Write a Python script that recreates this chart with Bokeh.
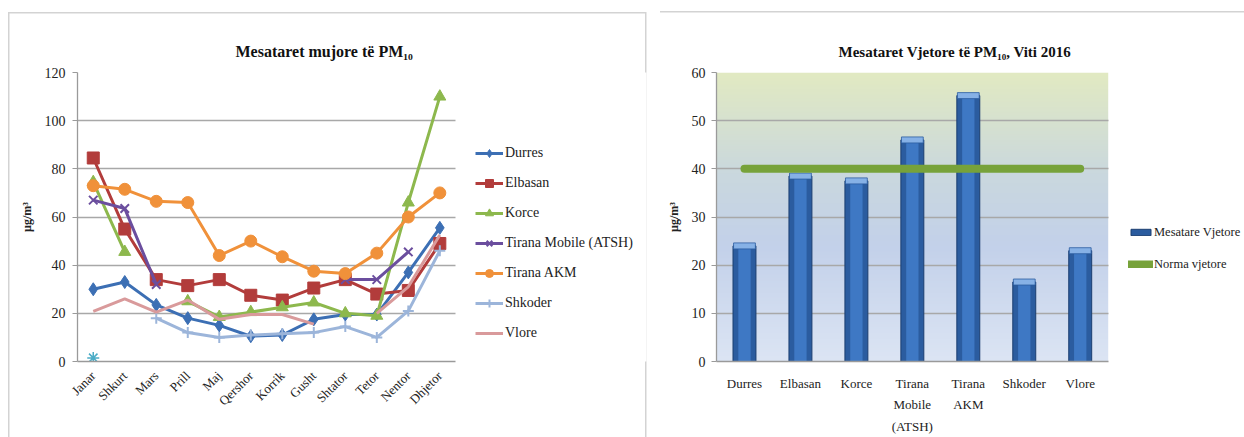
import math
import numpy as np
from bokeh.plotting import figure
from bokeh.layouts import row
from bokeh.models import (Range1d, Legend, LegendItem, Title, FixedTicker)
from bokeh.embed import file_html
from bokeh.resources import INLINE

nan = float("nan")

# ---------------- data: monthly means ----------------
months = ["Janar", "Shkurt", "Mars", "Prill", "Maj", "Qershor", "Korrik",
          "Gusht", "Shtator", "Tetor", "Nentor", "Dhjetor"]
durres = [30, 33, 23.5, 18, 15, 10.5, 11, 17.5, 19.5, 19.5, 37, 55.5]
elbasan = [84.5, 55, 34, 31.5, 34, 27.5, 25.5, 30.5, 34, 28, 29.5, 49]
korce = [74.5, 45.5, nan, 25, 18.5, 20.5, 22.5, 24.5, 20, 19, 66, 110]
tirana_mobile = [67, 63.5, 32, nan, nan, nan, nan, nan, 34, 34, 45.5, nan]
tirana_akm = [73, 71.5, 66.5, 66, 44, 50, 43.5, 37.5, 36.5, 45, 60, 70]
shkoder = [nan, nan, 18, 12, 10, 11, 11.5, 12, 14.5, 10, 21, 46]
vlore = [20.8, 26, 20.5, 25.5, 17.5, 19.5, 19.5, 15.5, nan, 20, 31, 52.5]
extra_point = [1.5, nan, nan, nan, nan, nan, nan, nan, nan, nan, nan, nan]
left_ticks = [0, 20, 40, 60, 80, 100, 120]

# ---------------- data: annual means ----------------
stations = ["Durres", "Elbasan", "Korce", "Tirana\nMobile\n(ATSH)",
            "Tirana\nAKM", "Shkoder", "Vlore"]
annual = [24, 38.5, 37.5, 46, 55.2, 16.5, 23]
norma = [40, 40, 40, 40, 40, 40, 40]
right_ticks = [0, 10, 20, 30, 40, 50, 60]

FONT = "Liberation Serif"
LFONT = "'Liberation Serif', serif"
GRID = "#A8A8A8"
AXIS = "#9A9A9A"
TXT = "#222222"
PANEL = "#D3D3D3"

# category positions on a numeric axis (one unit per category)
mx = [i for i in range(len(months))]
sx = [i + 0.5 for i in range(len(stations))]


def style_axes(p, xsize):
    for ax in (p.xaxis[0], p.yaxis[0]):
        ax.major_label_text_font = FONT
        ax.major_label_text_font_size = "14px"
        ax.major_label_text_color = TXT
        ax.axis_line_color = AXIS
        ax.axis_line_width = 1.3
        ax.minor_tick_line_color = None
    p.yaxis.axis_label = "µg/m³"
    p.yaxis.axis_label_text_font = FONT
    p.yaxis.axis_label_text_font_style = "bold"
    p.yaxis.axis_label_text_font_size = "12px"
    p.yaxis.axis_label_text_color = TXT
    p.yaxis.axis_label_standoff = 8
    p.yaxis.major_tick_line_color = AXIS
    p.yaxis.major_tick_in = 0
    p.yaxis.major_tick_out = 5
    p.xaxis.major_tick_line_color = None
    p.xaxis.major_label_text_font_size = xsize
    p.xgrid.grid_line_color = None
    p.ygrid.grid_line_color = GRID
    p.ygrid.grid_line_width = 1.3
    p.outline_line_color = None
    p.border_fill_color = None


def style_legend(leg, size, gh, spacing):
    leg.label_text_font = LFONT
    leg.label_text_font_size = size
    leg.label_text_color = TXT
    leg.glyph_height = gh
    leg.label_height = 20
    leg.spacing = spacing
    leg.padding = 0
    leg.margin = 0
    leg.border_line_color = None
    leg.background_fill_alpha = 0


# ================= left chart =================
left_css = {
    "background-image": ", ".join([f"linear-gradient({PANEL}, {PANEL})"] * 3),
    "background-size": "638px 1.5px, 1.5px 430px, 1.5px 430px",
    "background-position": "8px 12px, 8px 12px, 645px 12px",
    "background-repeat": "no-repeat",
}
p1 = figure(width=652, height=437, x_range=Range1d(-0.5, 17.56),
            y_range=Range1d(0, 120), output_backend="svg",
            toolbar_location=None, min_border_left=77, min_border_right=6,
            min_border_top=72, min_border_bottom=71, styles=left_css)
style_axes(p1, "13px")
p1.background_fill_color = "white"
p1.yaxis.ticker = FixedTicker(ticks=left_ticks)
p1.yaxis.major_label_standoff = 7
p1.xaxis.ticker = FixedTicker(ticks=mx)
p1.xaxis.major_label_overrides = {i: m for i, m in zip(mx, months)}
p1.xaxis.bounds = (-0.5, len(months) - 0.5)
p1.xaxis.major_label_orientation = math.pi / 4
p1.xaxis.major_label_standoff = 6
p1.ygrid.cross_bounds = (-0.5, len(months) - 0.5)

series = [
    ("Durres", durres, "#3C6FB4", "diamond", 13),
    ("Elbasan", elbasan, "#B23C3B", "square", 12),
    ("Korce", korce, "#8DB84D", "triangle", 12),
    ("Tirana Mobile (ATSH)", tirana_mobile, "#6B4E9E", "x", 12),
    ("Tirana AKM", tirana_akm, "#F0913A", "circle", 12),
    ("Shkoder", shkoder, "#9CB5DA", "cross", 11),
    ("Vlore", vlore, "#D99A9B", None, 0),
]
items = []
for name, vals, col, mk, sz in series:
    rs = [p1.line(mx, vals, line_color=col, line_width=3)]
    if mk:
        if mk in ("x", "cross"):
            rs.append(p1.scatter(mx, vals, marker=mk, size=sz,
                                 line_color=col, line_width=2))
        else:
            rs.append(p1.scatter(mx, vals, marker=mk, size=sz,
                                 fill_color=col, line_color=col))
    items.append(LegendItem(label=name, renderers=rs))
p1.scatter(mx, extra_point, marker="asterisk", size=12,
           line_color="#4BACC6", line_width=1.5)

leg1 = Legend(items=items, location=(398, 18), orientation="vertical",
              glyph_width=28, label_standoff=2)
style_legend(leg1, "14px", 20, 10)
p1.add_layout(leg1)

t1 = Title(text="Mesataret mujore të PM₁₀", text_font=FONT,
           text_font_style="bold", text_font_size="16px", align="left",
           offset=158, standoff=26, text_color="#111111")
p1.add_layout(t1, "above")

# ================= right chart =================
right_css = {
    "background-image": f"linear-gradient({PANEL}, {PANEL})",
    "background-size": "600px 1.5px",
    "background-position": "8px 11px",
    "background-repeat": "no-repeat",
}
p2 = figure(width=592, height=437, x_range=Range1d(0, 9.40),
            y_range=Range1d(0, 60), output_backend="svg",
            toolbar_location=None, min_border_left=64, min_border_right=2,
            min_border_top=72, min_border_bottom=75, styles=right_css)
style_axes(p2, "13px")
p2.background_fill_color = None
p2.yaxis.ticker = FixedTicker(ticks=right_ticks)
p2.yaxis.major_label_standoff = 6
p2.xaxis.ticker = FixedTicker(ticks=sx)
p2.xaxis.major_label_overrides = {x: s for x, s in zip(sx, stations)}
p2.xaxis.bounds = (0, len(stations))
p2.xaxis.major_label_standoff = 8
p2.xaxis.major_label_text_line_height = 1.45
p2.ygrid.cross_bounds = (0, len(stations))

# gradient background of the plot area (style only)
stops_y = np.array([0.0, 0.4, 0.65, 1.0])
stops_c = np.array([[220, 229, 244], [195, 209, 234], [202, 216, 222],
                    [226, 234, 194]], dtype=float)
ny = 200
t = np.linspace(0, 1, ny)
rgb = np.stack([np.interp(t, stops_y, stops_c[:, k]) for k in range(3)], axis=1)
img = np.zeros((ny, 1), dtype=np.uint32)
view = img.view(dtype=np.uint8).reshape((ny, 1, 4))
view[:, 0, 0] = rgb[:, 0].astype(np.uint8)
view[:, 0, 1] = rgb[:, 1].astype(np.uint8)
view[:, 0, 2] = rgb[:, 2].astype(np.uint8)
view[:, 0, 3] = 255
p2.image_rgba(image=[img], x=0, y=0, dw=len(stations), dh=60, level="image")

bars = p2.vbar(x=sx, top=annual, width=0.41, fill_color="#2B5C9F",
               line_color="#1B3E70", line_width=1)
p2.vbar(x=sx, top=annual, width=0.22, fill_color="#3E78C4", line_color=None)
p2.rect(x=sx, y=annual, width=0.39, height=6, height_units="screen",
        fill_color="#86B1E6", line_color="#2B5C9F", line_width=0.8)
norm_line = p2.line(x=sx, y=norma, line_color="#77A23A", line_width=8,
                    line_cap="round")

leg2 = Legend(items=[LegendItem(label="Mesatare Vjetore", renderers=[bars]),
                     LegendItem(label="Norma vjetore", renderers=[norm_line])],
              location=(412, 87), glyph_width=25, label_standoff=1)
style_legend(leg2, "12.5px", 8, 12)
p2.add_layout(leg2)

t2 = Title(text="Mesataret Vjetore të PM₁₀, Viti 2016", text_font=FONT,
           text_font_style="bold", text_font_size="15px", align="left",
           offset=122, standoff=26, text_color="#111111")
p2.add_layout(t2, "above")

layout = row(p1, p2, spacing=0)
open("out.html", "w").write(file_html(layout, INLINE))
